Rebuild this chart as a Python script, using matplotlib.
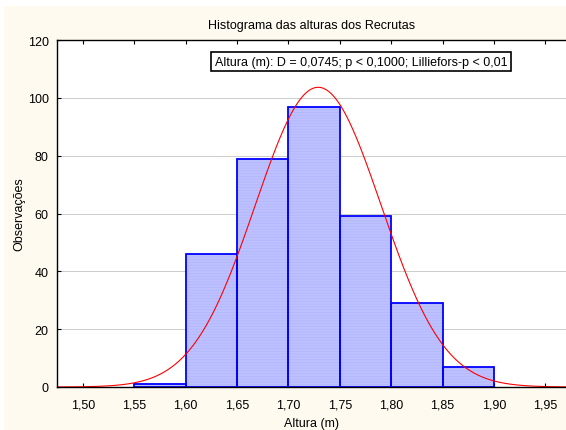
import numpy as np
import matplotlib
matplotlib.use('Agg')
from matplotlib import pyplot as plt
from matplotlib.patches import Rectangle

plt.rcParams['font.family'] = ['Liberation Sans', 'DejaVu Sans']
plt.rcParams['hatch.linewidth'] = 0.6

# histogram bins (left edges) and counts
BIN_EDGES = [1.55, 1.60, 1.65, 1.70, 1.75, 1.80, 1.85, 1.90]
COUNTS = [1, 46, 79, 97, 59, 29, 7]

# fitted normal curve parameters
FIT_MEAN = 1.729
FIT_SD = 0.0612

X_TICKS = [1.50, 1.55, 1.60, 1.65, 1.70, 1.75, 1.80, 1.85, 1.90, 1.95]
Y_TICKS = [0, 20, 40, 60, 80, 100, 120]

TITLE = 'Histograma das alturas dos Recrutas'
STATS_TEXT = 'Altura (m): D = 0,0745; p < 0,1000; Lilliefors-p < 0,01'


def main():
    fig = plt.figure(figsize=(5.66, 4.31), dpi=100, facecolor='white')
    fig.patches.append(Rectangle((4 / 566, 0), 1, (431 - 7) / 431,
                                 transform=fig.transFigure,
                                 facecolor='#fffaf0', edgecolor='none',
                                 zorder=-10))

    ax = fig.add_axes([57 / 566, 43 / 431, 1 - 57 / 566, 347 / 431])
    ax.set_facecolor('white')

    widths = np.diff(BIN_EDGES)
    # striped fill, then blue outlines on top
    ax.bar(BIN_EDGES[:-1], COUNTS, width=widths, align='edge',
           facecolor='#bec1ff', edgecolor='#b2b6fd', hatch='------',
           linewidth=0, zorder=2)
    ax.bar(BIN_EDGES[:-1], COUNTS, width=widths, align='edge',
           facecolor='none', edgecolor='#0000ff', linewidth=1.3, zorder=2.5)

    n_total = sum(COUNTS)
    bin_w = widths[0]
    xs = np.linspace(1.475, 1.97, 400)
    ys = n_total * bin_w / (FIT_SD * np.sqrt(2 * np.pi)) * \
        np.exp(-0.5 * ((xs - FIT_MEAN) / FIT_SD) ** 2)
    ax.plot(xs, ys, color='#ff0000', linewidth=0.8, zorder=3)

    ax.set_xlim(1.475, 1.97)
    ax.set_ylim(0, 120)
    ax.set_xticks(X_TICKS)
    ax.set_xticklabels([f'{v:.2f}'.replace('.', ',') for v in X_TICKS])
    ax.set_yticks(Y_TICKS)
    ax.set_yticklabels([str(v) for v in Y_TICKS])
    ax.tick_params(direction='in', length=3, width=0.8, labelsize=9,
                   top=True, pad=6)
    ax.tick_params(axis='x', pad=8)

    for y in Y_TICKS[1:-1]:
        ax.axhline(y, color='#cccccc', linewidth=0.7, zorder=1)

    ax.spines['right'].set_visible(False)
    for side in ('left', 'top', 'bottom'):
        ax.spines[side].set_linewidth(1.0)
        ax.spines[side].set_zorder(4)

    ax.set_title(TITLE, fontsize=9, pad=9)
    ax.set_xlabel('Altura (m)', fontsize=9, labelpad=5)
    ax.set_ylabel('Observações', fontsize=9, labelpad=2)

    ax.text(0.597, 0.937, STATS_TEXT, transform=ax.transAxes, fontsize=9,
            ha='center', va='center', zorder=5,
            bbox=dict(boxstyle='square,pad=0.28', facecolor='white',
                      edgecolor='black', linewidth=1.2))

    fig.savefig('out.png', dpi=100, facecolor=fig.get_facecolor())


if __name__ == '__main__':
    main()
